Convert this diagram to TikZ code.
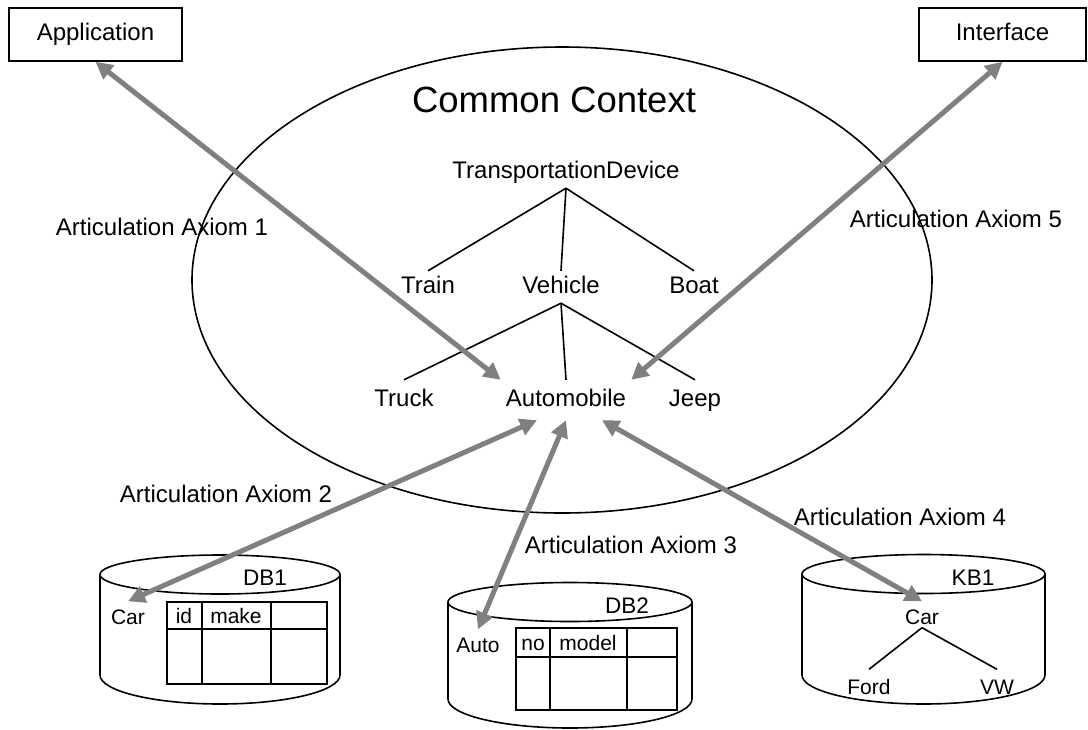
\documentclass[tikz,border=0pt]{standalone}
\usepackage{fontspec}
\setmainfont{Liberation Sans}
\usetikzlibrary{arrows.meta}
\definecolor{axgray}{RGB}{128,128,128}
% centre x, top y, bottom y, half width
\newcommand{\storage}[4]{%
	\draw[line width=1.6pt] (#1,#2) ellipse [x radius=#4, y radius=19.5];
	\draw[line width=1.6pt] (#1-#4,#2) -- (#1-#4,#3) arc [start angle=180, end angle=0, x radius=#4, y radius=29] -- (#1+#4,#2);
}
\tikzset{
	word/.style={font=\fontsize{24}{28}\selectfont, text height=17pt, text depth=5pt, inner sep=5pt},
	low/.style={word, inner ysep=9pt},
	box/.style={word, draw, line width=1.6pt, minimum height=53pt},
	small/.style={font=\fontsize{21}{25}\selectfont, text height=15pt, text depth=4pt, inner sep=2pt},
	target/.style={small, inner ysep=8pt},
	leaf/.style={small, inner ysep=10pt},
	axiom/.style={font=\fontsize{24}{28}\selectfont},
	link/.style={draw=axgray, line width=5pt, {Triangle[length=17pt,width=17pt]}-{Triangle[length=17pt,width=17pt]}},
	tree/.style={line width=1.6pt}
}
\begin{document}
\begin{tikzpicture}[x=1pt, y=-1pt]
	\useasboundingbox (0,0) rectangle (1088,729);
	% common context
	\draw[line width=1.6pt] (562,280) ellipse [x radius=370, y radius=233];
	\node[font=\fontsize{36.5}{42}\selectfont] (ctx) at (554,100) {Common Context};
	\node[word] (td) at (566,172) {TransportationDevice};
	\node[word] (train) at (428,287) {Train};
	\node[word] (veh) at (561,287) {Vehicle};
	\node[word] (boat) at (694,287) {Boat};
	\node[low] (truck) at (404,400) {Truck};
	\node[low] (auto) at (566,400) {Automobile};
	\node[low] (jeep) at (695,400) {Jeep};
	\draw[tree] (td.south) -- (train.north);
	\draw[tree] (td.south) -- (veh.north);
	\draw[tree] (td.south) -- (boat.north);
	\draw[tree] (veh.south) -- (truck.north);
	\draw[tree] (veh.south) -- (auto.north);
	\draw[tree] (veh.south) -- (jeep.north);
	% outside boxes
	\node[box, minimum width=173pt] (app) at (95.5,34.5) {Application};
	\node[box, minimum width=167pt] (intf) at (1002.5,34.5) {Interface};
	% DB1
	\storage{220}{574.5}{675}{120}
	\node[small, font=\fontsize{22.5}{26}\selectfont] (db1) at (265,580) {DB1};
	\node[target] (car1) at (128,619) {Car};
	\draw[line width=1.6pt] (167,602) rectangle (327,684);
	\draw[line width=1.6pt] (167,629) -- (327,629);
	\draw[line width=1.6pt] (202,602) -- (202,684);
	\draw[line width=1.6pt] (271,602) -- (271,684);
	\node[small] (id1) at (184,618) {id};
	\node[small] (make1) at (236,618) {make};
	% DB2
	\storage{570}{602}{699}{122}
	\node[small, font=\fontsize{22.5}{26}\selectfont] (db2) at (627,608) {DB2};
	\node[target] (car2) at (478,647) {Auto};
	\draw[line width=1.6pt] (516,628) rectangle (677,710);
	\draw[line width=1.6pt] (516,657) -- (677,657);
	\draw[line width=1.6pt] (550,628) -- (550,710);
	\draw[line width=1.6pt] (627,628) -- (627,710);
	\node[small] (no2) at (533,645) {no};
	\node[small] (model2) at (588,645) {model};
	% KB1
	\storage{923.5}{574}{675}{121.5}
	\node[small, font=\fontsize{22.5}{26}\selectfont] (kb1) at (973,580) {KB1};
	\node[target] (car3) at (922,619) {Car};
	\node[leaf] (ford) at (869,689) {Ford};
	\node[leaf] (vw) at (997,689) {VW};
	\draw[tree] ([yshift=9pt]car3.south) -- (ford.north);
	\draw[tree] ([yshift=9pt]car3.south) -- (vw.north);
	% articulation axioms
	\node[axiom] (ax1) at (162,227) {Articulation Axiom 1};
	\node[axiom] (ax2) at (226,494) {Articulation Axiom 2};
	\node[axiom] (ax3) at (631,545) {Articulation Axiom 3};
	\node[axiom] (ax4) at (900,517) {Articulation Axiom 4};
	\node[axiom] (ax5) at (956,219) {Articulation Axiom 5};
	\draw[link] (app.south) -- (auto.north west);
	\draw[link] (intf.south) -- (auto.north east);
	\draw[link] ([xshift=-29pt]auto.south) -- (car1.north);
	\draw[link] (auto.south) -- (car2.north);
	\draw[link] ([xshift=36pt]auto.south) -- (car3.north);
\end{tikzpicture}
\end{document}
